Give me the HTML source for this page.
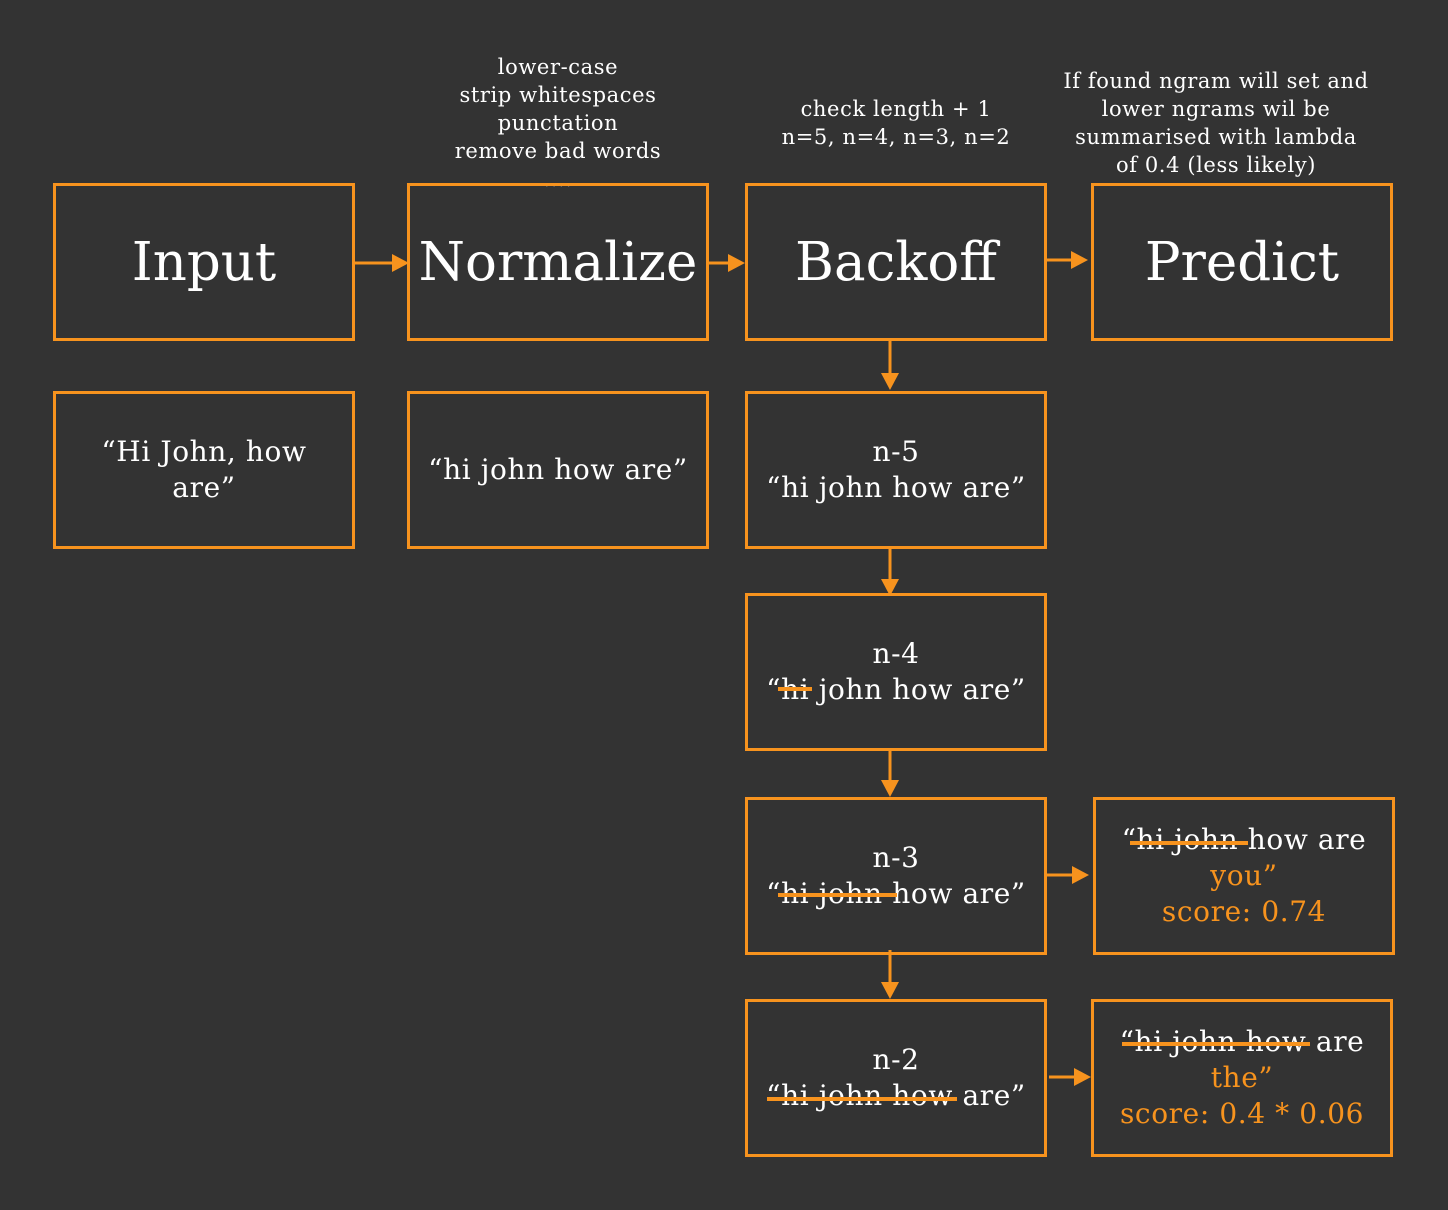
<!DOCTYPE html>
<html><head><meta charset="utf-8"><style>
html,body{margin:0;padding:0}
body{width:1448px;height:1210px;background:#333333;position:relative;overflow:hidden;font-family:"DejaVu Serif","Liberation Serif",serif;color:#fff}
.b{position:absolute;border:3px solid #f7931e;box-sizing:border-box;display:flex;align-items:center;justify-content:center;text-align:center}
.t{font-size:53px}
.m{font-size:28px;line-height:36px;letter-spacing:0.6px}
.a{position:absolute;font-size:21px;line-height:28px;text-align:center;letter-spacing:0.6px}
.o{color:#f7931e}
svg{position:absolute;left:0;top:0}
</style></head><body>
<div class="a" style="left:400px;top:53px;width:316px">lower-case<br>strip whitespaces<br>punctation<br>remove bad words<br>....</div>
<div class="a" style="left:740px;top:95px;width:312px">check length + 1<br>n=5, n=4, n=3, n=2</div>
<div class="a" style="left:1020px;top:67px;width:392px">If found ngram will set and<br>lower ngrams wil be<br>summarised with lambda<br>of 0.4 (less likely)</div>

<div class="b t" style="left:53px;top:183px;width:302px;height:158px"><div>Input</div></div>
<div class="b t" style="left:407px;top:183px;width:302px;height:158px"><div>Normalize</div></div>
<div class="b t" style="left:745px;top:183px;width:302px;height:158px"><div>Backoff</div></div>
<div class="b t" style="left:1091px;top:183px;width:302px;height:158px"><div>Predict</div></div>

<div class="b m" style="left:53px;top:391px;width:302px;height:158px"><div>“Hi John, how<br>are”</div></div>
<div class="b m" style="left:407px;top:391px;width:302px;height:158px"><div>“hi john how are”</div></div>
<div class="b m" style="left:745px;top:391px;width:302px;height:158px"><div>n-5<br>“hi john how are”</div></div>
<div class="b m" style="left:745px;top:593px;width:302px;height:158px"><div>n-4<br>“hi john how are”</div></div>
<div class="b m" style="left:745px;top:797px;width:302px;height:158px"><div>n-3<br>“hi john how are”</div></div>
<div class="b m" style="left:745px;top:999px;width:302px;height:158px"><div>n-2<br>“hi john how are”</div></div>
<div class="b m" style="left:1093px;top:797px;width:302px;height:158px"><div>“hi john how are<br><span class="o">you”</span><br><span class="o">score: 0.74</span></div></div>
<div class="b m" style="left:1091px;top:999px;width:302px;height:158px"><div>“hi john how are<br><span class="o">the”</span><br><span class="o">score: 0.4 * 0.06</span></div></div>

<svg width="1448" height="1210" fill="#f7931e" stroke="#f7931e">
<g stroke-width="3">
<line x1="355" y1="263" x2="392" y2="263"/>
<line x1="709" y1="263" x2="730" y2="263"/>
<line x1="1047" y1="260" x2="1072" y2="260"/>
<line x1="890" y1="341" x2="890" y2="374"/>
<line x1="890" y1="549" x2="890" y2="580"/>
<line x1="890" y1="751" x2="890" y2="782"/>
<line x1="890" y1="950" x2="890" y2="984"/>
<line x1="1047" y1="875" x2="1074" y2="875"/>
<line x1="1049" y1="1077" x2="1076" y2="1077"/>
</g>
<g stroke="none">
<polygon points="392,254 409,263 392,272"/>
<polygon points="728,254 745,263 728,272"/>
<polygon points="1071,251 1088,260 1071,269"/>
<polygon points="881,373 890,390 899,373"/>
<polygon points="881,579 890,596 899,579"/>
<polygon points="881,780 890,797 899,780"/>
<polygon points="881,982 890,999 899,982"/>
<polygon points="1072,866 1089,875 1072,884"/>
<polygon points="1074,1068 1091,1077 1074,1086"/>
</g>
<g stroke-width="4">
<line x1="778" y1="689" x2="812" y2="689"/>
<line x1="778" y1="895" x2="897" y2="895"/>
<line x1="767" y1="1099" x2="957" y2="1099"/>
<line x1="1130" y1="843" x2="1248" y2="843"/>
<line x1="1122" y1="1044" x2="1310" y2="1044"/>
</g>
</svg>
</body></html>
